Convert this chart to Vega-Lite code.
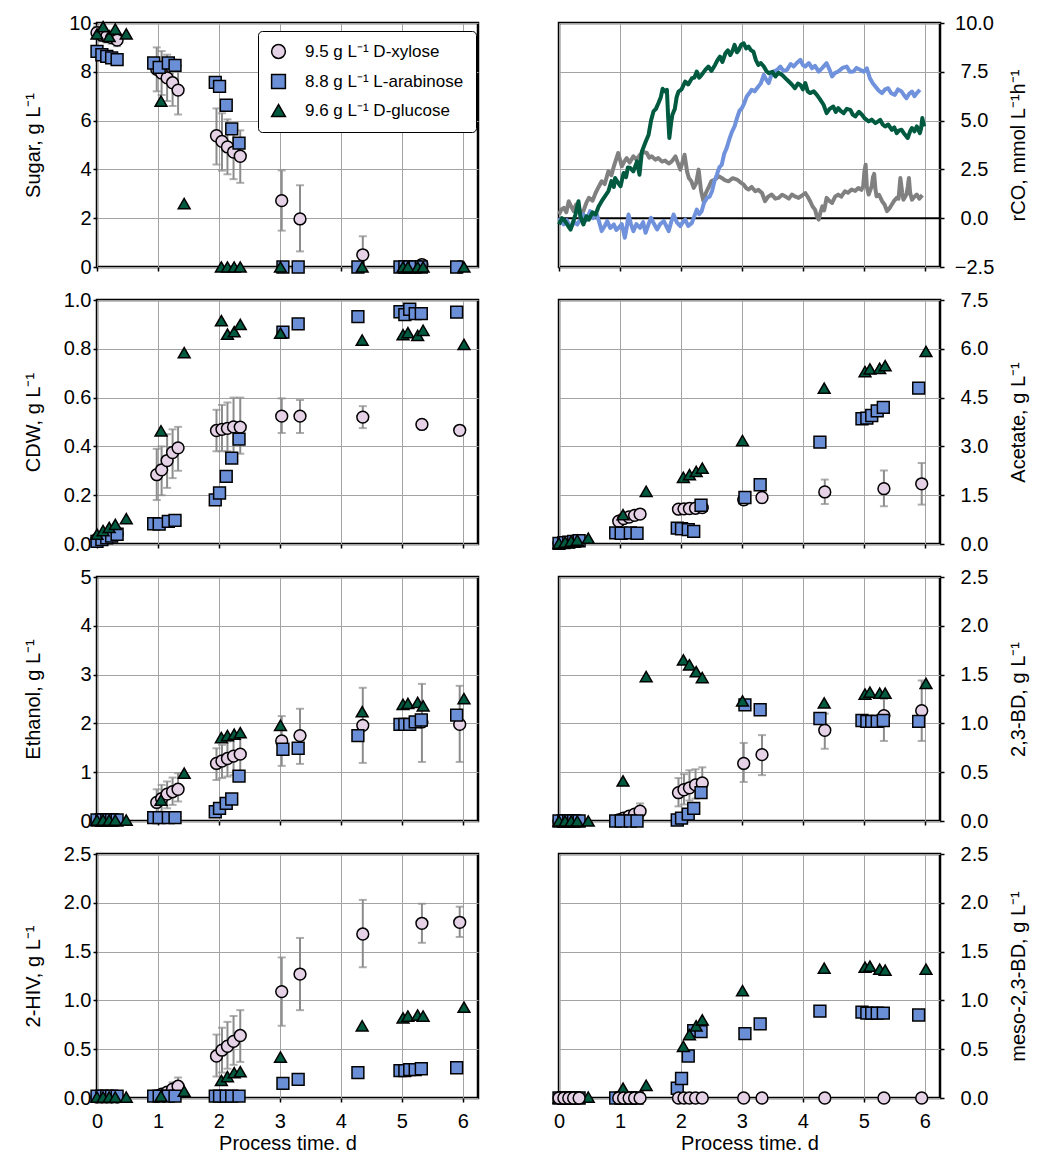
{
"$schema":"https://vega.github.io/schema/vega-lite/v6.json",
"background":"white",
"padding":{"left":21,"top":11,"right":5,"bottom":0},
"config":{
 "font":"Liberation Sans",
 "view":{"stroke":"black","strokeWidth":2.5},
 "axis":{"labelFont":"Liberation Sans","titleFont":"Liberation Sans","labelFontSize":20,"titleFontSize":20,"titleFontWeight":"normal","labelColor":"black","titleColor":"black","tickColor":"black","tickWidth":1.5,"tickSize":4,"domain":false,"grid":true,"gridColor":"#a3a3a3","gridWidth":1,"gridOpacity":1,"labelFlush":false,"labelOverlap":false},
 "axisLeft":{"labelPadding":2,"titleX":-58,"titleAngle":-90,"titleBaseline":"alphabetic"},
 "axisRight":{"labelPadding":30,"labelAlign":"center","titleX":84,"titleAngle":-90,"titleBaseline":"alphabetic"},
 "axisBottom":{"labelPadding":9,"titlePadding":2}
},
"datasets":{
"sug":[
{"s":"X","t":0,"v":9.6,"lo":9.35,"hi":9.85},{"s":"X","t":0.08,"v":9.5,"lo":9.25,"hi":9.75},{"s":"X","t":0.16,"v":9.45,"lo":9.2,"hi":9.7},{"s":"X","t":0.24,"v":9.4,"lo":9.15,"hi":9.65},{"s":"X","t":0.33,"v":9.3,"lo":9.05,"hi":9.55},
{"s":"X","t":0.98,"v":8.1,"lo":7.2,"hi":9.0},{"s":"X","t":1.06,"v":7.95,"lo":7.05,"hi":8.85},{"s":"X","t":1.15,"v":7.75,"lo":6.8,"hi":8.7},{"s":"X","t":1.24,"v":7.55,"lo":6.6,"hi":8.5},{"s":"X","t":1.33,"v":7.25,"lo":6.25,"hi":8.25},
{"s":"X","t":1.96,"v":5.38,"lo":4.2,"hi":6.5},{"s":"X","t":2.05,"v":5.15,"lo":3.95,"hi":6.3},{"s":"X","t":2.14,"v":4.92,"lo":3.8,"hi":6.05},{"s":"X","t":2.24,"v":4.71,"lo":3.6,"hi":5.8},{"s":"X","t":2.35,"v":4.54,"lo":3.45,"hi":5.6},
{"s":"X","t":3.03,"v":2.72,"lo":1.49,"hi":3.96},{"s":"X","t":3.33,"v":1.97,"lo":0.64,"hi":3.35},{"s":"X","t":4.36,"v":0.5,"lo":0,"hi":1.26},{"s":"X","t":5.33,"v":0.1},{"s":"X","t":5.95,"v":0},
{"s":"A","t":0,"v":8.84},{"s":"A","t":0.08,"v":8.7},{"s":"A","t":0.16,"v":8.63},{"s":"A","t":0.24,"v":8.57},{"s":"A","t":0.33,"v":8.5},
{"s":"A","t":0.93,"v":8.36},{"s":"A","t":1.02,"v":8.18},{"s":"A","t":1.17,"v":8.36},{"s":"A","t":1.28,"v":8.26},
{"s":"A","t":1.94,"v":7.57},{"s":"A","t":2.01,"v":7.4},{"s":"A","t":2.12,"v":6.63},{"s":"A","t":2.21,"v":5.66},{"s":"A","t":2.33,"v":5.08},
{"s":"A","t":3.05,"v":0},{"s":"A","t":3.3,"v":0},{"s":"A","t":4.28,"v":0},{"s":"A","t":4.97,"v":0},{"s":"A","t":5.05,"v":0},{"s":"A","t":5.13,"v":0},{"s":"A","t":5.22,"v":0},{"s":"A","t":5.32,"v":0},{"s":"A","t":5.9,"v":0},
{"s":"G","t":0,"v":9.55},{"s":"G","t":0.1,"v":9.85},{"s":"G","t":0.2,"v":9.45},{"s":"G","t":0.3,"v":9.75},{"s":"G","t":0.48,"v":9.55},
{"s":"G","t":1.05,"v":6.8},{"s":"G","t":1.43,"v":2.6},{"s":"G","t":2.04,"v":0},{"s":"G","t":2.14,"v":0},{"s":"G","t":2.25,"v":0},{"s":"G","t":2.35,"v":0},
{"s":"G","t":3.01,"v":0},{"s":"G","t":4.35,"v":0},{"s":"G","t":5.02,"v":0},{"s":"G","t":5.1,"v":0},{"s":"G","t":5.26,"v":0},{"s":"G","t":5.35,"v":0},{"s":"G","t":6.02,"v":0}
],
"cdw":[
{"s":"X","t":0,"v":0.02},{"s":"X","t":0.08,"v":0.025},{"s":"X","t":0.16,"v":0.03},{"s":"X","t":0.24,"v":0.035},{"s":"X","t":0.33,"v":0.04},
{"s":"X","t":0.98,"v":0.284,"lo":0.18,"hi":0.39},{"s":"X","t":1.06,"v":0.304,"lo":0.2,"hi":0.4},{"s":"X","t":1.15,"v":0.342,"lo":0.23,"hi":0.45},{"s":"X","t":1.24,"v":0.375,"lo":0.27,"hi":0.47},{"s":"X","t":1.33,"v":0.394,"lo":0.3,"hi":0.48},
{"s":"X","t":1.96,"v":0.465,"lo":0.38,"hi":0.55},{"s":"X","t":2.05,"v":0.47,"lo":0.38,"hi":0.57},{"s":"X","t":2.14,"v":0.474,"lo":0.38,"hi":0.58},{"s":"X","t":2.24,"v":0.48,"lo":0.37,"hi":0.6},{"s":"X","t":2.35,"v":0.479,"lo":0.37,"hi":0.6},
{"s":"X","t":3.03,"v":0.524,"lo":0.455,"hi":0.597},{"s":"X","t":3.33,"v":0.524,"lo":0.455,"hi":0.59},{"s":"X","t":4.36,"v":0.52,"lo":0.475,"hi":0.565},{"s":"X","t":5.33,"v":0.49,"lo":0.478,"hi":0.502},{"s":"X","t":5.95,"v":0.466},
{"s":"A","t":0,"v":0.011},{"s":"A","t":0.08,"v":0.018},{"s":"A","t":0.16,"v":0.025},{"s":"A","t":0.24,"v":0.032},{"s":"A","t":0.33,"v":0.04},
{"s":"A","t":0.93,"v":0.083},{"s":"A","t":1.02,"v":0.082},{"s":"A","t":1.17,"v":0.093},{"s":"A","t":1.28,"v":0.097},
{"s":"A","t":1.94,"v":0.181},{"s":"A","t":2.01,"v":0.209},{"s":"A","t":2.12,"v":0.277},{"s":"A","t":2.21,"v":0.352},{"s":"A","t":2.33,"v":0.43},
{"s":"A","t":3.05,"v":0.868},{"s":"A","t":3.3,"v":0.902},{"s":"A","t":4.28,"v":0.932},{"s":"A","t":4.97,"v":0.952},{"s":"A","t":5.05,"v":0.94},{"s":"A","t":5.13,"v":0.962},{"s":"A","t":5.22,"v":0.944},{"s":"A","t":5.32,"v":0.944},{"s":"A","t":5.9,"v":0.95},
{"s":"G","t":0,"v":0.04},{"s":"G","t":0.1,"v":0.055},{"s":"G","t":0.2,"v":0.068},{"s":"G","t":0.3,"v":0.08},{"s":"G","t":0.48,"v":0.104},
{"s":"G","t":1.05,"v":0.464},{"s":"G","t":1.43,"v":0.784},{"s":"G","t":2.04,"v":0.915},{"s":"G","t":2.14,"v":0.86},{"s":"G","t":2.25,"v":0.87},{"s":"G","t":2.35,"v":0.9},
{"s":"G","t":3.01,"v":0.864},{"s":"G","t":4.35,"v":0.836},{"s":"G","t":5.02,"v":0.858},{"s":"G","t":5.1,"v":0.866},{"s":"G","t":5.26,"v":0.855},{"s":"G","t":5.35,"v":0.876},{"s":"G","t":6.02,"v":0.818}
],
"eth":[
{"s":"X","t":0,"v":0.02},{"s":"X","t":0.08,"v":0.02},{"s":"X","t":0.16,"v":0.02},{"s":"X","t":0.24,"v":0.02},{"s":"X","t":0.33,"v":0.02},
{"s":"X","t":0.98,"v":0.38,"lo":0.12,"hi":0.65},{"s":"X","t":1.06,"v":0.46,"lo":0.19,"hi":0.74},{"s":"X","t":1.15,"v":0.55,"lo":0.26,"hi":0.81},{"s":"X","t":1.24,"v":0.6,"lo":0.33,"hi":0.89},{"s":"X","t":1.33,"v":0.65,"lo":0.4,"hi":0.98},
{"s":"X","t":1.96,"v":1.18,"lo":0.84,"hi":1.49},{"s":"X","t":2.05,"v":1.23,"lo":0.88,"hi":1.56},{"s":"X","t":2.14,"v":1.28,"lo":0.91,"hi":1.63},{"s":"X","t":2.24,"v":1.33,"lo":0.94,"hi":1.7},{"s":"X","t":2.35,"v":1.37,"lo":0.98,"hi":1.8},
{"s":"X","t":3.03,"v":1.64,"lo":1.13,"hi":2.15},{"s":"X","t":3.33,"v":1.75,"lo":1.17,"hi":2.3},{"s":"X","t":4.36,"v":1.96,"lo":1.19,"hi":2.73},{"s":"X","t":5.33,"v":2.03,"lo":1.21,"hi":2.81},{"s":"X","t":5.95,"v":1.98,"lo":1.21,"hi":2.77},
{"s":"A","t":0,"v":0.02},{"s":"A","t":0.08,"v":0.02},{"s":"A","t":0.16,"v":0.02},{"s":"A","t":0.24,"v":0.02},{"s":"A","t":0.33,"v":0.02},
{"s":"A","t":0.93,"v":0.07},{"s":"A","t":1.02,"v":0.07},{"s":"A","t":1.17,"v":0.07},{"s":"A","t":1.28,"v":0.07},
{"s":"A","t":1.94,"v":0.19},{"s":"A","t":2.01,"v":0.26},{"s":"A","t":2.12,"v":0.36},{"s":"A","t":2.21,"v":0.45},{"s":"A","t":2.33,"v":0.92},
{"s":"A","t":3.05,"v":1.47},{"s":"A","t":3.3,"v":1.49},{"s":"A","t":4.28,"v":1.75},{"s":"A","t":4.97,"v":1.98},{"s":"A","t":5.05,"v":1.98},{"s":"A","t":5.13,"v":1.98},{"s":"A","t":5.22,"v":2.03},{"s":"A","t":5.32,"v":2.07},{"s":"A","t":5.9,"v":2.17},
{"s":"G","t":0,"v":0.02},{"s":"G","t":0.1,"v":0.02},{"s":"G","t":0.2,"v":0.02},{"s":"G","t":0.3,"v":0.02},{"s":"G","t":0.48,"v":0.02},
{"s":"G","t":1.05,"v":0.43},{"s":"G","t":1.43,"v":0.98},{"s":"G","t":2.04,"v":1.71},{"s":"G","t":2.14,"v":1.75},{"s":"G","t":2.25,"v":1.78},{"s":"G","t":2.35,"v":1.81},
{"s":"G","t":3.01,"v":1.96},{"s":"G","t":4.35,"v":2.24},{"s":"G","t":5.02,"v":2.39},{"s":"G","t":5.1,"v":2.41},{"s":"G","t":5.26,"v":2.43},{"s":"G","t":5.35,"v":2.36},{"s":"G","t":6.02,"v":2.51}
],
"hiv":[
{"s":"X","t":0,"v":0.01},{"s":"X","t":0.08,"v":0.01},{"s":"X","t":0.16,"v":0.01},{"s":"X","t":0.24,"v":0.01},{"s":"X","t":0.33,"v":0.01},
{"s":"X","t":0.98,"v":0.02},{"s":"X","t":1.06,"v":0.04},{"s":"X","t":1.15,"v":0.06},{"s":"X","t":1.24,"v":0.09,"lo":0.02,"hi":0.16},{"s":"X","t":1.33,"v":0.12,"lo":0.03,"hi":0.21},
{"s":"X","t":1.96,"v":0.43,"lo":0.22,"hi":0.65},{"s":"X","t":2.05,"v":0.49,"lo":0.26,"hi":0.72},{"s":"X","t":2.14,"v":0.53,"lo":0.3,"hi":0.78},{"s":"X","t":2.24,"v":0.58,"lo":0.34,"hi":0.84},{"s":"X","t":2.35,"v":0.64,"lo":0.37,"hi":0.9},
{"s":"X","t":3.03,"v":1.09,"lo":0.74,"hi":1.44},{"s":"X","t":3.33,"v":1.27,"lo":0.9,"hi":1.64},{"s":"X","t":4.36,"v":1.68,"lo":1.34,"hi":2.03},{"s":"X","t":5.33,"v":1.79,"lo":1.59,"hi":1.99},{"s":"X","t":5.95,"v":1.8,"lo":1.65,"hi":1.96},
{"s":"A","t":0,"v":0.02},{"s":"A","t":0.08,"v":0.02},{"s":"A","t":0.16,"v":0.02},{"s":"A","t":0.24,"v":0.02},{"s":"A","t":0.33,"v":0.02},
{"s":"A","t":0.93,"v":0.02},{"s":"A","t":1.02,"v":0.02},{"s":"A","t":1.17,"v":0.02},{"s":"A","t":1.28,"v":0.02},
{"s":"A","t":1.94,"v":0.02},{"s":"A","t":2.01,"v":0.02},{"s":"A","t":2.12,"v":0.02},{"s":"A","t":2.21,"v":0.02},{"s":"A","t":2.33,"v":0.02},
{"s":"A","t":3.05,"v":0.15},{"s":"A","t":3.3,"v":0.19},{"s":"A","t":4.28,"v":0.26},{"s":"A","t":4.97,"v":0.28},{"s":"A","t":5.05,"v":0.28},{"s":"A","t":5.13,"v":0.29},{"s":"A","t":5.22,"v":0.29},{"s":"A","t":5.32,"v":0.3},{"s":"A","t":5.9,"v":0.31},
{"s":"G","t":0,"v":0.01},{"s":"G","t":0.1,"v":0.01},{"s":"G","t":0.2,"v":0.01},{"s":"G","t":0.3,"v":0.01},{"s":"G","t":0.48,"v":0.01},
{"s":"G","t":1.05,"v":0.02},{"s":"G","t":1.43,"v":0.07},{"s":"G","t":2.04,"v":0.18},{"s":"G","t":2.14,"v":0.22},{"s":"G","t":2.25,"v":0.26},{"s":"G","t":2.35,"v":0.27},
{"s":"G","t":3.01,"v":0.42},{"s":"G","t":4.35,"v":0.74},{"s":"G","t":5.02,"v":0.82},{"s":"G","t":5.1,"v":0.84},{"s":"G","t":5.26,"v":0.85},{"s":"G","t":5.35,"v":0.84},{"s":"G","t":6.02,"v":0.93}
],
"ace":[
{"s":"X","t":0,"v":0.02},{"s":"X","t":0.08,"v":0.04},{"s":"X","t":0.16,"v":0.05},{"s":"X","t":0.24,"v":0.07},{"s":"X","t":0.33,"v":0.08},
{"s":"X","t":0.98,"v":0.7,"lo":0.63,"hi":0.77},{"s":"X","t":1.06,"v":0.78,"lo":0.71,"hi":0.85},{"s":"X","t":1.15,"v":0.83,"lo":0.76,"hi":0.9},{"s":"X","t":1.24,"v":0.88,"lo":0.81,"hi":0.95},{"s":"X","t":1.33,"v":0.92,"lo":0.85,"hi":0.99},
{"s":"X","t":1.96,"v":1.07,"lo":0.99,"hi":1.15},{"s":"X","t":2.05,"v":1.08,"lo":1.0,"hi":1.16},{"s":"X","t":2.14,"v":1.09,"lo":1.01,"hi":1.17},{"s":"X","t":2.24,"v":1.1,"lo":1.02,"hi":1.18},{"s":"X","t":2.35,"v":1.12,"lo":1.04,"hi":1.2},
{"s":"X","t":3.03,"v":1.36,"lo":1.2,"hi":1.5},{"s":"X","t":3.33,"v":1.43,"lo":1.27,"hi":1.58},{"s":"X","t":4.36,"v":1.6,"lo":1.23,"hi":1.98},{"s":"X","t":5.33,"v":1.7,"lo":1.16,"hi":2.26},{"s":"X","t":5.95,"v":1.85,"lo":1.21,"hi":2.49},
{"s":"A","t":0,"v":0.02},{"s":"A","t":0.08,"v":0.04},{"s":"A","t":0.16,"v":0.06},{"s":"A","t":0.24,"v":0.08},{"s":"A","t":0.33,"v":0.1},
{"s":"A","t":0.93,"v":0.34},{"s":"A","t":1.02,"v":0.33},{"s":"A","t":1.17,"v":0.34},{"s":"A","t":1.28,"v":0.33},
{"s":"A","t":1.94,"v":0.49},{"s":"A","t":2.01,"v":0.47},{"s":"A","t":2.12,"v":0.44},{"s":"A","t":2.21,"v":0.39},{"s":"A","t":2.33,"v":1.19},
{"s":"A","t":3.05,"v":1.43},{"s":"A","t":3.3,"v":1.82},{"s":"A","t":4.28,"v":3.13},{"s":"A","t":4.97,"v":3.85},{"s":"A","t":5.05,"v":3.87},{"s":"A","t":5.13,"v":3.95},{"s":"A","t":5.22,"v":4.09},{"s":"A","t":5.32,"v":4.2},{"s":"A","t":5.9,"v":4.79},
{"s":"G","t":0,"v":0.03},{"s":"G","t":0.1,"v":0.06},{"s":"G","t":0.2,"v":0.09},{"s":"G","t":0.3,"v":0.12},{"s":"G","t":0.48,"v":0.18},
{"s":"G","t":1.05,"v":0.9},{"s":"G","t":1.43,"v":1.62},{"s":"G","t":2.04,"v":2.05},{"s":"G","t":2.14,"v":2.13},{"s":"G","t":2.25,"v":2.23},{"s":"G","t":2.35,"v":2.33},
{"s":"G","t":3.01,"v":3.18},{"s":"G","t":4.35,"v":4.79},{"s":"G","t":5.02,"v":5.3},{"s":"G","t":5.1,"v":5.38},{"s":"G","t":5.26,"v":5.4},{"s":"G","t":5.35,"v":5.48},{"s":"G","t":6.02,"v":5.92}
],
"bd":[
{"s":"X","t":0,"v":0},{"s":"X","t":0.08,"v":0},{"s":"X","t":0.16,"v":0},{"s":"X","t":0.24,"v":0},{"s":"X","t":0.33,"v":0},
{"s":"X","t":0.98,"v":0.01},{"s":"X","t":1.06,"v":0.03},{"s":"X","t":1.15,"v":0.05},{"s":"X","t":1.24,"v":0.07},{"s":"X","t":1.33,"v":0.1,"lo":0.03,"hi":0.18},
{"s":"X","t":1.96,"v":0.29,"lo":0.15,"hi":0.44},{"s":"X","t":2.05,"v":0.32,"lo":0.17,"hi":0.48},{"s":"X","t":2.14,"v":0.34,"lo":0.21,"hi":0.52},{"s":"X","t":2.24,"v":0.37,"lo":0.23,"hi":0.53},{"s":"X","t":2.35,"v":0.39,"lo":0.25,"hi":0.55},
{"s":"X","t":3.03,"v":0.59,"lo":0.4,"hi":0.8},{"s":"X","t":3.33,"v":0.68,"lo":0.47,"hi":0.88},{"s":"X","t":4.36,"v":0.93,"lo":0.74,"hi":1.1},{"s":"X","t":5.33,"v":1.08,"lo":0.82,"hi":1.25},{"s":"X","t":5.95,"v":1.13,"lo":0.82,"hi":1.44},
{"s":"A","t":0,"v":0},{"s":"A","t":0.08,"v":0},{"s":"A","t":0.16,"v":0},{"s":"A","t":0.24,"v":0},{"s":"A","t":0.33,"v":0},
{"s":"A","t":0.93,"v":0},{"s":"A","t":1.02,"v":0},{"s":"A","t":1.17,"v":0},{"s":"A","t":1.28,"v":0},
{"s":"A","t":1.94,"v":0.01},{"s":"A","t":2.01,"v":0.03},{"s":"A","t":2.12,"v":0.07},{"s":"A","t":2.21,"v":0.13},{"s":"A","t":2.33,"v":0.29},
{"s":"A","t":3.05,"v":1.19},{"s":"A","t":3.3,"v":1.14},{"s":"A","t":4.28,"v":1.05},{"s":"A","t":4.97,"v":1.03},{"s":"A","t":5.05,"v":1.02},{"s":"A","t":5.13,"v":1.02},{"s":"A","t":5.22,"v":1.02},{"s":"A","t":5.32,"v":1.03},{"s":"A","t":5.9,"v":1.02},
{"s":"G","t":0,"v":0},{"s":"G","t":0.1,"v":0},{"s":"G","t":0.2,"v":0},{"s":"G","t":0.3,"v":0},{"s":"G","t":0.48,"v":0},
{"s":"G","t":1.05,"v":0.41},{"s":"G","t":1.43,"v":1.48},{"s":"G","t":2.04,"v":1.65},{"s":"G","t":2.14,"v":1.6},{"s":"G","t":2.25,"v":1.53},{"s":"G","t":2.35,"v":1.47},
{"s":"G","t":3.01,"v":1.23},{"s":"G","t":4.35,"v":1.21},{"s":"G","t":5.02,"v":1.3},{"s":"G","t":5.1,"v":1.32},{"s":"G","t":5.26,"v":1.31},{"s":"G","t":5.35,"v":1.31},{"s":"G","t":6.02,"v":1.41}
],
"meso":[
{"s":"A","t":0,"v":0},{"s":"A","t":0.08,"v":0},{"s":"A","t":0.16,"v":0},{"s":"A","t":0.24,"v":0},{"s":"A","t":0.33,"v":0},
{"s":"A","t":0.93,"v":0},{"s":"A","t":1.02,"v":0},{"s":"A","t":1.17,"v":0},{"s":"A","t":1.28,"v":0},
{"s":"A","t":1.94,"v":0.1},{"s":"A","t":2.01,"v":0.2},{"s":"A","t":2.12,"v":0.43},{"s":"A","t":2.21,"v":0.69},{"s":"A","t":2.33,"v":0.68},
{"s":"A","t":3.05,"v":0.66},{"s":"A","t":3.3,"v":0.76},{"s":"A","t":4.28,"v":0.89},{"s":"A","t":4.97,"v":0.88},{"s":"A","t":5.05,"v":0.87},{"s":"A","t":5.13,"v":0.87},{"s":"A","t":5.22,"v":0.87},{"s":"A","t":5.32,"v":0.87},{"s":"A","t":5.9,"v":0.85},
{"s":"G","t":0,"v":0},{"s":"G","t":0.1,"v":0},{"s":"G","t":0.2,"v":0},{"s":"G","t":0.3,"v":0},{"s":"G","t":0.48,"v":0.01},
{"s":"G","t":1.05,"v":0.1},{"s":"G","t":1.43,"v":0.13},{"s":"G","t":2.04,"v":0.53},{"s":"G","t":2.14,"v":0.65},{"s":"G","t":2.25,"v":0.74},{"s":"G","t":2.35,"v":0.8},
{"s":"G","t":3.01,"v":1.1},{"s":"G","t":4.35,"v":1.33},{"s":"G","t":5.02,"v":1.34},{"s":"G","t":5.1,"v":1.35},{"s":"G","t":5.26,"v":1.32},{"s":"G","t":5.35,"v":1.31},{"s":"G","t":6.02,"v":1.32},
{"s":"X","t":0,"v":0},{"s":"X","t":0.08,"v":0},{"s":"X","t":0.16,"v":0},{"s":"X","t":0.24,"v":0},{"s":"X","t":0.33,"v":0},
{"s":"X","t":0.98,"v":0},{"s":"X","t":1.06,"v":0},{"s":"X","t":1.15,"v":0},{"s":"X","t":1.24,"v":0},{"s":"X","t":1.33,"v":0},
{"s":"X","t":1.96,"v":0},{"s":"X","t":2.05,"v":0},{"s":"X","t":2.14,"v":0},{"s":"X","t":2.24,"v":0},{"s":"X","t":2.35,"v":0},
{"s":"X","t":3.03,"v":0},{"s":"X","t":3.33,"v":0},{"s":"X","t":4.36,"v":0},{"s":"X","t":5.33,"v":0},{"s":"X","t":5.95,"v":0}
],
"rco":[
{"s":"X","t":0,"v":0.19},{"s":"X","t":0.04,"v":0.45},{"s":"X","t":0.08,"v":0.53},{"s":"X","t":0.12,"v":0.3},{"s":"X","t":0.16,"v":0.87},{"s":"X","t":0.2,"v":0.6},{"s":"X","t":0.24,"v":0.36},{"s":"X","t":0.28,"v":0.7},{"s":"X","t":0.32,"v":0.61},{"s":"X","t":0.36,"v":0.2},{"s":"X","t":0.4,"v":0.36},{"s":"X","t":0.45,"v":0.8},{"s":"X","t":0.49,"v":1.04},{"s":"X","t":0.55,"v":0.9},{"s":"X","t":0.6,"v":1.29},{"s":"X","t":0.65,"v":1.6},{"s":"X","t":0.7,"v":1.89},{"s":"X","t":0.75,"v":1.75},{"s":"X","t":0.81,"v":2.4},{"s":"X","t":0.86,"v":2.2},{"s":"X","t":0.9,"v":2.66},{"s":"X","t":0.97,"v":3.34},{"s":"X","t":1.03,"v":2.66},{"s":"X","t":1.07,"v":2.9},{"s":"X","t":1.11,"v":3.08},{"s":"X","t":1.16,"v":2.85},{"s":"X","t":1.22,"v":3.17},{"s":"X","t":1.27,"v":3.0},{"s":"X","t":1.33,"v":3.25},{"s":"X","t":1.38,"v":3.4},{"s":"X","t":1.44,"v":3.34},{"s":"X","t":1.48,"v":3.1},{"s":"X","t":1.52,"v":3.17},{"s":"X","t":1.58,"v":3.0},{"s":"X","t":1.63,"v":3.08},{"s":"X","t":1.69,"v":2.9},{"s":"X","t":1.74,"v":2.95},{"s":"X","t":1.8,"v":2.8},{"s":"X","t":1.85,"v":2.91},{"s":"X","t":1.91,"v":3.17},{"s":"X","t":1.99,"v":2.49},{"s":"X","t":2.06,"v":3.25},{"s":"X","t":2.1,"v":2.4},{"s":"X","t":2.13,"v":2.06},{"s":"X","t":2.17,"v":1.9},{"s":"X","t":2.21,"v":1.55},{"s":"X","t":2.25,"v":1.8},{"s":"X","t":2.29,"v":2.49},{"s":"X","t":2.33,"v":1.4},{"s":"X","t":2.37,"v":0.87},{"s":"X","t":2.41,"v":1.3},{"s":"X","t":2.45,"v":1.55},{"s":"X","t":2.5,"v":1.9},{"s":"X","t":2.56,"v":1.98},{"s":"X","t":2.62,"v":2.15},{"s":"X","t":2.67,"v":2.06},{"s":"X","t":2.72,"v":1.95},{"s":"X","t":2.78,"v":1.89},{"s":"X","t":2.85,"v":2.05},{"s":"X","t":2.92,"v":1.98},{"s":"X","t":2.97,"v":1.85},{"s":"X","t":3.03,"v":1.72},{"s":"X","t":3.07,"v":1.55},{"s":"X","t":3.11,"v":1.47},{"s":"X","t":3.16,"v":1.6},{"s":"X","t":3.22,"v":1.38},{"s":"X","t":3.27,"v":1.45},{"s":"X","t":3.33,"v":1.29},{"s":"X","t":3.38,"v":0.87},{"s":"X","t":3.43,"v":1.1},{"s":"X","t":3.49,"v":1.21},{"s":"X","t":3.55,"v":1.0},{"s":"X","t":3.6,"v":1.04},{"s":"X","t":3.66,"v":1.2},{"s":"X","t":3.71,"v":1.12},{"s":"X","t":3.77,"v":1.0},{"s":"X","t":3.82,"v":1.21},{"s":"X","t":3.88,"v":1.1},{"s":"X","t":3.93,"v":1.04},{"s":"X","t":3.98,"v":1.15},{"s":"X","t":4.04,"v":1.29},{"s":"X","t":4.08,"v":1.1},{"s":"X","t":4.12,"v":0.87},{"s":"X","t":4.16,"v":0.6},{"s":"X","t":4.2,"v":0.44},{"s":"X","t":4.23,"v":0.1},{"s":"X","t":4.26,"v":-0.07},{"s":"X","t":4.29,"v":0.3},{"s":"X","t":4.32,"v":0.61},{"s":"X","t":4.35,"v":0.4},{"s":"X","t":4.39,"v":1.04},{"s":"X","t":4.43,"v":0.9},{"s":"X","t":4.48,"v":0.78},{"s":"X","t":4.53,"v":1.1},{"s":"X","t":4.58,"v":1.21},{"s":"X","t":4.63,"v":1.1},{"s":"X","t":4.69,"v":1.38},{"s":"X","t":4.74,"v":1.3},{"s":"X","t":4.8,"v":1.47},{"s":"X","t":4.86,"v":1.4},{"s":"X","t":4.91,"v":1.55},{"s":"X","t":4.96,"v":1.45},{"s":"X","t":4.99,"v":1.64},{"s":"X","t":5.01,"v":2.4},{"s":"X","t":5.03,"v":2.74},{"s":"X","t":5.05,"v":1.6},{"s":"X","t":5.08,"v":1.21},{"s":"X","t":5.13,"v":1.64},{"s":"X","t":5.15,"v":2.1},{"s":"X","t":5.17,"v":2.27},{"s":"X","t":5.19,"v":1.5},{"s":"X","t":5.21,"v":1.12},{"s":"X","t":5.25,"v":1.2},{"s":"X","t":5.3,"v":0.87},{"s":"X","t":5.34,"v":0.7},{"s":"X","t":5.38,"v":0.36},{"s":"X","t":5.42,"v":0.5},{"s":"X","t":5.46,"v":0.7},{"s":"X","t":5.5,"v":0.9},{"s":"X","t":5.54,"v":1.04},{"s":"X","t":5.57,"v":1.0},{"s":"X","t":5.6,"v":2.06},{"s":"X","t":5.63,"v":1.3},{"s":"X","t":5.65,"v":0.95},{"s":"X","t":5.7,"v":1.21},{"s":"X","t":5.72,"v":1.6},{"s":"X","t":5.74,"v":2.06},{"s":"X","t":5.76,"v":1.3},{"s":"X","t":5.79,"v":0.95},{"s":"X","t":5.83,"v":1.1},{"s":"X","t":5.87,"v":1.21},{"s":"X","t":5.91,"v":1.0},{"s":"X","t":5.96,"v":1.18},
{"s":"A","t":0,"v":0.02},{"s":"A","t":0.04,"v":-0.2},{"s":"A","t":0.08,"v":-0.32},{"s":"A","t":0.13,"v":-0.1},{"s":"A","t":0.19,"v":-0.49},{"s":"A","t":0.25,"v":-0.2},{"s":"A","t":0.3,"v":-0.32},{"s":"A","t":0.35,"v":-0.05},{"s":"A","t":0.4,"v":0.19},{"s":"A","t":0.45,"v":-0.1},{"s":"A","t":0.51,"v":0.36},{"s":"A","t":0.56,"v":0.0},{"s":"A","t":0.62,"v":0.19},{"s":"A","t":0.66,"v":-0.2},{"s":"A","t":0.7,"v":-0.66},{"s":"A","t":0.75,"v":-0.4},{"s":"A","t":0.79,"v":-0.15},{"s":"A","t":0.84,"v":-0.5},{"s":"A","t":0.9,"v":-0.32},{"s":"A","t":0.94,"v":-0.6},{"s":"A","t":0.98,"v":-0.49},{"s":"A","t":1.03,"v":-0.3},{"s":"A","t":1.08,"v":-1.0},{"s":"A","t":1.11,"v":-0.5},{"s":"A","t":1.14,"v":0.19},{"s":"A","t":1.18,"v":-0.3},{"s":"A","t":1.22,"v":-0.66},{"s":"A","t":1.27,"v":-0.3},{"s":"A","t":1.33,"v":-0.49},{"s":"A","t":1.38,"v":-0.2},{"s":"A","t":1.42,"v":-0.75},{"s":"A","t":1.47,"v":-0.3},{"s":"A","t":1.51,"v":0.02},{"s":"A","t":1.56,"v":-0.3},{"s":"A","t":1.61,"v":-0.58},{"s":"A","t":1.66,"v":-0.3},{"s":"A","t":1.72,"v":-0.15},{"s":"A","t":1.76,"v":-0.4},{"s":"A","t":1.8,"v":-0.66},{"s":"A","t":1.84,"v":-0.2},{"s":"A","t":1.88,"v":0.19},{"s":"A","t":1.93,"v":-0.2},{"s":"A","t":1.99,"v":-0.41},{"s":"A","t":2.03,"v":-0.2},{"s":"A","t":2.07,"v":-0.07},{"s":"A","t":2.12,"v":-0.4},{"s":"A","t":2.18,"v":-0.24},{"s":"A","t":2.22,"v":0.1},{"s":"A","t":2.26,"v":0.44},{"s":"A","t":2.3,"v":0.2},{"s":"A","t":2.34,"v":0.36},{"s":"A","t":2.38,"v":0.8},{"s":"A","t":2.43,"v":1.04},{"s":"A","t":2.47,"v":1.1},{"s":"A","t":2.51,"v":1.38},{"s":"A","t":2.55,"v":1.9},{"s":"A","t":2.59,"v":2.23},{"s":"A","t":2.63,"v":2.6},{"s":"A","t":2.67,"v":2.74},{"s":"A","t":2.71,"v":3.3},{"s":"A","t":2.75,"v":3.59},{"s":"A","t":2.8,"v":4.1},{"s":"A","t":2.84,"v":4.45},{"s":"A","t":2.88,"v":4.7},{"s":"A","t":2.92,"v":5.13},{"s":"A","t":2.96,"v":5.5},{"s":"A","t":3.0,"v":5.64},{"s":"A","t":3.04,"v":5.9},{"s":"A","t":3.08,"v":6.24},{"s":"A","t":3.12,"v":6.4},{"s":"A","t":3.16,"v":6.58},{"s":"A","t":3.21,"v":6.5},{"s":"A","t":3.27,"v":6.75},{"s":"A","t":3.31,"v":6.9},{"s":"A","t":3.36,"v":7.34},{"s":"A","t":3.4,"v":7.1},{"s":"A","t":3.44,"v":6.92},{"s":"A","t":3.48,"v":7.3},{"s":"A","t":3.52,"v":7.51},{"s":"A","t":3.58,"v":7.6},{"s":"A","t":3.63,"v":7.77},{"s":"A","t":3.68,"v":7.55},{"s":"A","t":3.74,"v":7.6},{"s":"A","t":3.8,"v":7.9},{"s":"A","t":3.85,"v":7.77},{"s":"A","t":3.9,"v":7.95},{"s":"A","t":3.96,"v":8.11},{"s":"A","t":4.0,"v":7.85},{"s":"A","t":4.04,"v":7.77},{"s":"A","t":4.1,"v":7.95},{"s":"A","t":4.15,"v":7.68},{"s":"A","t":4.2,"v":7.8},{"s":"A","t":4.26,"v":7.51},{"s":"A","t":4.32,"v":7.7},{"s":"A","t":4.39,"v":7.94},{"s":"A","t":4.44,"v":7.6},{"s":"A","t":4.48,"v":7.26},{"s":"A","t":4.53,"v":7.45},{"s":"A","t":4.58,"v":7.51},{"s":"A","t":4.65,"v":7.7},{"s":"A","t":4.72,"v":7.77},{"s":"A","t":4.77,"v":7.5},{"s":"A","t":4.83,"v":7.51},{"s":"A","t":4.88,"v":7.7},{"s":"A","t":4.94,"v":7.6},{"s":"A","t":5.0,"v":7.5},{"s":"A","t":5.05,"v":7.68},{"s":"A","t":5.1,"v":7.17},{"s":"A","t":5.15,"v":6.9},{"s":"A","t":5.19,"v":6.75},{"s":"A","t":5.24,"v":6.55},{"s":"A","t":5.3,"v":6.41},{"s":"A","t":5.35,"v":6.6},{"s":"A","t":5.4,"v":6.66},{"s":"A","t":5.45,"v":6.4},{"s":"A","t":5.51,"v":6.32},{"s":"A","t":5.56,"v":6.6},{"s":"A","t":5.62,"v":6.49},{"s":"A","t":5.66,"v":6.3},{"s":"A","t":5.7,"v":6.15},{"s":"A","t":5.75,"v":6.4},{"s":"A","t":5.79,"v":6.49},{"s":"A","t":5.83,"v":6.25},{"s":"A","t":5.87,"v":6.41},{"s":"A","t":5.92,"v":6.58},
{"s":"G","t":0,"v":-0.32},{"s":"G","t":0.05,"v":0.0},{"s":"G","t":0.1,"v":-0.15},{"s":"G","t":0.15,"v":-0.4},{"s":"G","t":0.19,"v":-0.58},{"s":"G","t":0.23,"v":-0.2},{"s":"G","t":0.27,"v":0.19},{"s":"G","t":0.32,"v":0.87},{"s":"G","t":0.35,"v":0.1},{"s":"G","t":0.4,"v":-0.32},{"s":"G","t":0.45,"v":0.1},{"s":"G","t":0.49,"v":-0.07},{"s":"G","t":0.55,"v":0.3},{"s":"G","t":0.6,"v":0.19},{"s":"G","t":0.65,"v":0.6},{"s":"G","t":0.7,"v":0.87},{"s":"G","t":0.75,"v":1.1},{"s":"G","t":0.81,"v":1.38},{"s":"G","t":0.86,"v":1.9},{"s":"G","t":0.9,"v":1.6},{"s":"G","t":0.92,"v":2.06},{"s":"G","t":0.97,"v":1.8},{"s":"G","t":1.01,"v":1.64},{"s":"G","t":1.06,"v":2.32},{"s":"G","t":1.1,"v":2.1},{"s":"G","t":1.13,"v":2.6},{"s":"G","t":1.17,"v":2.57},{"s":"G","t":1.22,"v":2.4},{"s":"G","t":1.28,"v":2.91},{"s":"G","t":1.32,"v":2.23},{"s":"G","t":1.36,"v":3.42},{"s":"G","t":1.42,"v":3.9},{"s":"G","t":1.47,"v":4.28},{"s":"G","t":1.51,"v":5.0},{"s":"G","t":1.55,"v":5.47},{"s":"G","t":1.59,"v":5.6},{"s":"G","t":1.63,"v":5.89},{"s":"G","t":1.67,"v":6.2},{"s":"G","t":1.7,"v":6.63},{"s":"G","t":1.74,"v":6.5},{"s":"G","t":1.77,"v":6.58},{"s":"G","t":1.79,"v":5.2},{"s":"G","t":1.81,"v":4.11},{"s":"G","t":1.84,"v":4.9},{"s":"G","t":1.86,"v":5.3},{"s":"G","t":1.9,"v":5.6},{"s":"G","t":1.93,"v":6.2},{"s":"G","t":1.96,"v":6.49},{"s":"G","t":2.01,"v":6.6},{"s":"G","t":2.07,"v":7.0},{"s":"G","t":2.12,"v":6.85},{"s":"G","t":2.18,"v":7.17},{"s":"G","t":2.22,"v":7.2},{"s":"G","t":2.26,"v":7.51},{"s":"G","t":2.3,"v":7.2},{"s":"G","t":2.34,"v":7.34},{"s":"G","t":2.4,"v":7.6},{"s":"G","t":2.45,"v":7.77},{"s":"G","t":2.5,"v":7.55},{"s":"G","t":2.56,"v":7.85},{"s":"G","t":2.6,"v":8.1},{"s":"G","t":2.64,"v":8.28},{"s":"G","t":2.68,"v":8.0},{"s":"G","t":2.73,"v":8.45},{"s":"G","t":2.77,"v":8.6},{"s":"G","t":2.81,"v":8.36},{"s":"G","t":2.85,"v":8.6},{"s":"G","t":2.88,"v":8.88},{"s":"G","t":2.92,"v":8.5},{"s":"G","t":2.95,"v":8.62},{"s":"G","t":2.99,"v":8.9},{"s":"G","t":3.03,"v":8.96},{"s":"G","t":3.07,"v":8.7},{"s":"G","t":3.11,"v":8.79},{"s":"G","t":3.15,"v":8.6},{"s":"G","t":3.19,"v":8.53},{"s":"G","t":3.23,"v":8.1},{"s":"G","t":3.27,"v":7.85},{"s":"G","t":3.31,"v":7.95},{"s":"G","t":3.36,"v":7.77},{"s":"G","t":3.4,"v":7.55},{"s":"G","t":3.44,"v":7.43},{"s":"G","t":3.5,"v":7.5},{"s":"G","t":3.55,"v":7.26},{"s":"G","t":3.6,"v":7.45},{"s":"G","t":3.66,"v":7.34},{"s":"G","t":3.72,"v":7.15},{"s":"G","t":3.77,"v":7.0},{"s":"G","t":3.82,"v":6.85},{"s":"G","t":3.87,"v":6.66},{"s":"G","t":3.92,"v":6.9},{"s":"G","t":3.96,"v":6.83},{"s":"G","t":4.0,"v":6.6},{"s":"G","t":4.04,"v":6.92},{"s":"G","t":4.08,"v":6.5},{"s":"G","t":4.12,"v":6.41},{"s":"G","t":4.18,"v":6.5},{"s":"G","t":4.23,"v":6.32},{"s":"G","t":4.28,"v":6.1},{"s":"G","t":4.34,"v":5.81},{"s":"G","t":4.39,"v":5.38},{"s":"G","t":4.44,"v":5.6},{"s":"G","t":4.5,"v":5.72},{"s":"G","t":4.54,"v":5.45},{"s":"G","t":4.58,"v":5.64},{"s":"G","t":4.62,"v":5.5},{"s":"G","t":4.67,"v":5.38},{"s":"G","t":4.72,"v":5.6},{"s":"G","t":4.78,"v":5.55},{"s":"G","t":4.82,"v":5.3},{"s":"G","t":4.86,"v":5.21},{"s":"G","t":4.92,"v":5.45},{"s":"G","t":4.97,"v":5.3},{"s":"G","t":5.02,"v":5.1},{"s":"G","t":5.08,"v":4.96},{"s":"G","t":5.13,"v":5.05},{"s":"G","t":5.19,"v":4.87},{"s":"G","t":5.23,"v":4.95},{"s":"G","t":5.27,"v":5.04},{"s":"G","t":5.31,"v":4.8},{"s":"G","t":5.35,"v":4.7},{"s":"G","t":5.4,"v":4.8},{"s":"G","t":5.46,"v":4.53},{"s":"G","t":5.5,"v":4.65},{"s":"G","t":5.54,"v":4.36},{"s":"G","t":5.58,"v":4.5},{"s":"G","t":5.62,"v":4.53},{"s":"G","t":5.67,"v":4.3},{"s":"G","t":5.72,"v":4.11},{"s":"G","t":5.76,"v":4.45},{"s":"G","t":5.79,"v":4.62},{"s":"G","t":5.83,"v":4.45},{"s":"G","t":5.87,"v":4.7},{"s":"G","t":5.92,"v":4.36},{"s":"G","t":5.94,"v":4.6},{"s":"G","t":5.96,"v":5.13},{"s":"G","t":5.99,"v":4.7}
]
},
"columns":2,
"bounds":"flush",
"spacing":{"row":33,"column":81},
"resolve":{"scale":{"fill":"independent","shape":"independent","color":"independent"},"legend":{"fill":"independent","shape":"independent","color":"independent"}},
"concat":[
{"width":381,"height":244,"data":{"name":"sug"},
 "layer":[
  {"transform":[{"filter":"isValid(datum.hi)"}],"mark":{"type":"errorbar","color":"#8c8c8c","thickness":2,"ticks":{"size":8,"thickness":2,"color":"#8c8c8c"}},
   "encoding":{"x":{"field":"t","type":"quantitative","scale":{"domain":[0,6.25],"nice":false},"axis":{"values":[0,1,2,3,4,5,6],"labels":false,"title":null}},
    "y":{"field":"lo","type":"quantitative","scale":{"domain":[0,10],"nice":false},"axis":{"orient":"left","values":[0,2,4,6,8,10],"format":"d","title":"Sugar, g L⁻¹"}},"y2":{"field":"hi"}}},
  {"mark":{"type":"point","filled":true,"opacity":1,"stroke":"black","strokeWidth":1.5,"size":140},
   "encoding":{"x":{"field":"t","type":"quantitative","scale":{"domain":[0,6.25],"nice":false},"axis":{"values":[0,1,2,3,4,5,6],"labels":false,"title":null}},
    "y":{"field":"v","type":"quantitative","scale":{"domain":[0,10],"nice":false},"axis":{"orient":"left","values":[0,2,4,6,8,10],"format":"d","title":"Sugar, g L⁻¹"}},
    "shape":{"field":"s","type":"nominal","scale":{"domain":["X","A","G"],"range":["circle","square","triangle-up"]},"legend":{"orient":"none","legendX":161,"legendY":8,"title":null,"padding":12,"strokeColor":"black","fillColor":"white","cornerRadius":4,"labelFontSize":17,"labelFont":"Liberation Sans","labelColor":"black","symbolSize":190,"symbolStrokeColor":"black","symbolStrokeWidth":1.5,"symbolOpacity":1,"rowPadding":9,"labelOffset":18,"labelExpr":"datum.label == 'X' ? '9.5 g L⁻¹ D-xylose' : datum.label == 'A' ? '8.8 g L⁻¹ L-arabinose' : '9.6 g L⁻¹ D-glucose'","encode":{"symbols":{"update":{"stroke":{"value":"black"},"strokeWidth":{"value":1.5}}}}}},
    "fill":{"field":"s","type":"nominal","scale":{"domain":["X","A","G"],"range":["#e6d2e6","#6a8fd6","#005a3f"]},"legend":{"orient":"none","legendX":161,"legendY":8,"title":null,"padding":12,"strokeColor":"black","fillColor":"white","cornerRadius":4,"labelFontSize":17,"labelFont":"Liberation Sans","labelColor":"black","symbolSize":190,"symbolStrokeColor":"black","symbolStrokeWidth":1.5,"symbolOpacity":1,"rowPadding":9,"labelOffset":18,"labelExpr":"datum.label == 'X' ? '9.5 g L⁻¹ D-xylose' : datum.label == 'A' ? '8.8 g L⁻¹ L-arabinose' : '9.6 g L⁻¹ D-glucose'","encode":{"symbols":{"update":{"stroke":{"value":"black"},"strokeWidth":{"value":1.5}}}}}}}}
 ]},
{"width":381,"height":244,
 "layer":[
  {"data":{"values":[{"z":0}]},"mark":{"type":"rule","color":"black","strokeWidth":2},
   "encoding":{"y":{"field":"z","type":"quantitative","scale":{"domain":[-2.5,10],"nice":false},"axis":{"orient":"right","values":[-2.5,0,2.5,5,7.5,10],"format":".1f","title":"rCO, mmol L⁻¹h⁻¹"}}}},
  {"data":{"name":"rco"},"mark":{"type":"line","strokeWidth":4,"strokeJoin":"round"},
   "encoding":{"x":{"field":"t","type":"quantitative","scale":{"domain":[0,6.25],"nice":false},"axis":{"values":[0,1,2,3,4,5,6],"labels":false,"title":null}},
    "y":{"field":"v","type":"quantitative","scale":{"domain":[-2.5,10],"nice":false},"axis":{"orient":"right","values":[-2.5,0,2.5,5,7.5,10],"format":".1f","title":"rCO, mmol L⁻¹h⁻¹"}},
    "color":{"field":"s","type":"nominal","scale":{"domain":["X","A","G"],"range":["#808080","#7092dc","#005a40"]},"legend":null},
    "order":{"field":"t","type":"quantitative"}}}
 ]},
{"width":381,"height":244,"data":{"name":"cdw"},
 "layer":[
  {"transform":[{"filter":"isValid(datum.hi)"}],"mark":{"type":"errorbar","color":"#8c8c8c","thickness":2,"ticks":{"size":8,"thickness":2,"color":"#8c8c8c"}},
   "encoding":{"x":{"field":"t","type":"quantitative","scale":{"domain":[0,6.25],"nice":false},"axis":{"values":[0,1,2,3,4,5,6],"labels":false,"title":null}},
    "y":{"field":"lo","type":"quantitative","scale":{"domain":[0,1],"nice":false},"axis":{"orient":"left","values":[0,0.2,0.4,0.6,0.8,1],"format":".1f","title":"CDW, g L⁻¹"}},"y2":{"field":"hi"}}},
  {"mark":{"type":"point","filled":true,"opacity":1,"stroke":"black","strokeWidth":1.5,"size":140},
   "encoding":{"x":{"field":"t","type":"quantitative","scale":{"domain":[0,6.25],"nice":false},"axis":{"values":[0,1,2,3,4,5,6],"labels":false,"title":null}},
    "y":{"field":"v","type":"quantitative","scale":{"domain":[0,1],"nice":false},"axis":{"orient":"left","values":[0,0.2,0.4,0.6,0.8,1],"format":".1f","title":"CDW, g L⁻¹"}},
    "shape":{"field":"s","type":"nominal","scale":{"domain":["X","A","G"],"range":["circle","square","triangle-up"]},"legend":null},
    "fill":{"field":"s","type":"nominal","scale":{"domain":["X","A","G"],"range":["#e6d2e6","#6a8fd6","#005a3f"]},"legend":null}}}
 ]},
{"width":381,"height":244,"data":{"name":"ace"},
 "layer":[
  {"transform":[{"filter":"isValid(datum.hi)"}],"mark":{"type":"errorbar","color":"#8c8c8c","thickness":2,"ticks":{"size":8,"thickness":2,"color":"#8c8c8c"}},
   "encoding":{"x":{"field":"t","type":"quantitative","scale":{"domain":[0,6.25],"nice":false},"axis":{"values":[0,1,2,3,4,5,6],"labels":false,"title":null}},
    "y":{"field":"lo","type":"quantitative","scale":{"domain":[0,7.5],"nice":false},"axis":{"orient":"right","values":[0,1.5,3,4.5,6,7.5],"format":".1f","title":"Acetate, g L⁻¹"}},"y2":{"field":"hi"}}},
  {"mark":{"type":"point","filled":true,"opacity":1,"stroke":"black","strokeWidth":1.5,"size":140},
   "encoding":{"x":{"field":"t","type":"quantitative","scale":{"domain":[0,6.25],"nice":false},"axis":{"values":[0,1,2,3,4,5,6],"labels":false,"title":null}},
    "y":{"field":"v","type":"quantitative","scale":{"domain":[0,7.5],"nice":false},"axis":{"orient":"right","values":[0,1.5,3,4.5,6,7.5],"format":".1f","title":"Acetate, g L⁻¹"}},
    "shape":{"field":"s","type":"nominal","scale":{"domain":["X","A","G"],"range":["circle","square","triangle-up"]},"legend":null},
    "fill":{"field":"s","type":"nominal","scale":{"domain":["X","A","G"],"range":["#e6d2e6","#6a8fd6","#005a3f"]},"legend":null}}}
 ]},
{"width":381,"height":244,"data":{"name":"eth"},
 "layer":[
  {"transform":[{"filter":"isValid(datum.hi)"}],"mark":{"type":"errorbar","color":"#8c8c8c","thickness":2,"ticks":{"size":8,"thickness":2,"color":"#8c8c8c"}},
   "encoding":{"x":{"field":"t","type":"quantitative","scale":{"domain":[0,6.25],"nice":false},"axis":{"values":[0,1,2,3,4,5,6],"labels":false,"title":null}},
    "y":{"field":"lo","type":"quantitative","scale":{"domain":[0,5],"nice":false},"axis":{"orient":"left","values":[0,1,2,3,4,5],"format":"d","title":"Ethanol, g L⁻¹"}},"y2":{"field":"hi"}}},
  {"mark":{"type":"point","filled":true,"opacity":1,"stroke":"black","strokeWidth":1.5,"size":140},
   "encoding":{"x":{"field":"t","type":"quantitative","scale":{"domain":[0,6.25],"nice":false},"axis":{"values":[0,1,2,3,4,5,6],"labels":false,"title":null}},
    "y":{"field":"v","type":"quantitative","scale":{"domain":[0,5],"nice":false},"axis":{"orient":"left","values":[0,1,2,3,4,5],"format":"d","title":"Ethanol, g L⁻¹"}},
    "shape":{"field":"s","type":"nominal","scale":{"domain":["X","A","G"],"range":["circle","square","triangle-up"]},"legend":null},
    "fill":{"field":"s","type":"nominal","scale":{"domain":["X","A","G"],"range":["#e6d2e6","#6a8fd6","#005a3f"]},"legend":null}}}
 ]},
{"width":381,"height":244,"data":{"name":"bd"},
 "layer":[
  {"transform":[{"filter":"isValid(datum.hi)"}],"mark":{"type":"errorbar","color":"#8c8c8c","thickness":2,"ticks":{"size":8,"thickness":2,"color":"#8c8c8c"}},
   "encoding":{"x":{"field":"t","type":"quantitative","scale":{"domain":[0,6.25],"nice":false},"axis":{"values":[0,1,2,3,4,5,6],"labels":false,"title":null}},
    "y":{"field":"lo","type":"quantitative","scale":{"domain":[0,2.5],"nice":false},"axis":{"orient":"right","values":[0,0.5,1,1.5,2,2.5],"format":".1f","title":"2,3-BD, g L⁻¹"}},"y2":{"field":"hi"}}},
  {"mark":{"type":"point","filled":true,"opacity":1,"stroke":"black","strokeWidth":1.5,"size":140},
   "encoding":{"x":{"field":"t","type":"quantitative","scale":{"domain":[0,6.25],"nice":false},"axis":{"values":[0,1,2,3,4,5,6],"labels":false,"title":null}},
    "y":{"field":"v","type":"quantitative","scale":{"domain":[0,2.5],"nice":false},"axis":{"orient":"right","values":[0,0.5,1,1.5,2,2.5],"format":".1f","title":"2,3-BD, g L⁻¹"}},
    "shape":{"field":"s","type":"nominal","scale":{"domain":["X","A","G"],"range":["circle","square","triangle-up"]},"legend":null},
    "fill":{"field":"s","type":"nominal","scale":{"domain":["X","A","G"],"range":["#e6d2e6","#6a8fd6","#005a3f"]},"legend":null}}}
 ]},
{"width":381,"height":244,"data":{"name":"hiv"},
 "layer":[
  {"transform":[{"filter":"isValid(datum.hi)"}],"mark":{"type":"errorbar","color":"#8c8c8c","thickness":2,"ticks":{"size":8,"thickness":2,"color":"#8c8c8c"}},
   "encoding":{"x":{"field":"t","type":"quantitative","scale":{"domain":[0,6.25],"nice":false},"axis":{"values":[0,1,2,3,4,5,6],"format":"d","title":"Process time. d"}},
    "y":{"field":"lo","type":"quantitative","scale":{"domain":[0,2.5],"nice":false},"axis":{"orient":"left","values":[0,0.5,1,1.5,2,2.5],"format":".1f","title":"2-HIV, g L⁻¹"}},"y2":{"field":"hi"}}},
  {"mark":{"type":"point","filled":true,"opacity":1,"stroke":"black","strokeWidth":1.5,"size":140},
   "encoding":{"x":{"field":"t","type":"quantitative","scale":{"domain":[0,6.25],"nice":false},"axis":{"values":[0,1,2,3,4,5,6],"format":"d","title":"Process time. d"}},
    "y":{"field":"v","type":"quantitative","scale":{"domain":[0,2.5],"nice":false},"axis":{"orient":"left","values":[0,0.5,1,1.5,2,2.5],"format":".1f","title":"2-HIV, g L⁻¹"}},
    "shape":{"field":"s","type":"nominal","scale":{"domain":["X","A","G"],"range":["circle","square","triangle-up"]},"legend":null},
    "fill":{"field":"s","type":"nominal","scale":{"domain":["X","A","G"],"range":["#e6d2e6","#6a8fd6","#005a3f"]},"legend":null}}}
 ]},
{"width":381,"height":244,"data":{"name":"meso"},
 "layer":[
  {"mark":{"type":"point","filled":true,"opacity":1,"stroke":"black","strokeWidth":1.5,"size":140},
   "encoding":{"x":{"field":"t","type":"quantitative","scale":{"domain":[0,6.25],"nice":false},"axis":{"values":[0,1,2,3,4,5,6],"format":"d","title":"Process time. d"}},
    "y":{"field":"v","type":"quantitative","scale":{"domain":[0,2.5],"nice":false},"axis":{"orient":"right","values":[0,0.5,1,1.5,2,2.5],"format":".1f","title":"meso-2,3-BD, g L⁻¹"}},
    "shape":{"field":"s","type":"nominal","scale":{"domain":["X","A","G"],"range":["circle","square","triangle-up"]},"legend":null},
    "fill":{"field":"s","type":"nominal","scale":{"domain":["X","A","G"],"range":["#e6d2e6","#6a8fd6","#005a3f"]},"legend":null}}}
 ]}
]
}
